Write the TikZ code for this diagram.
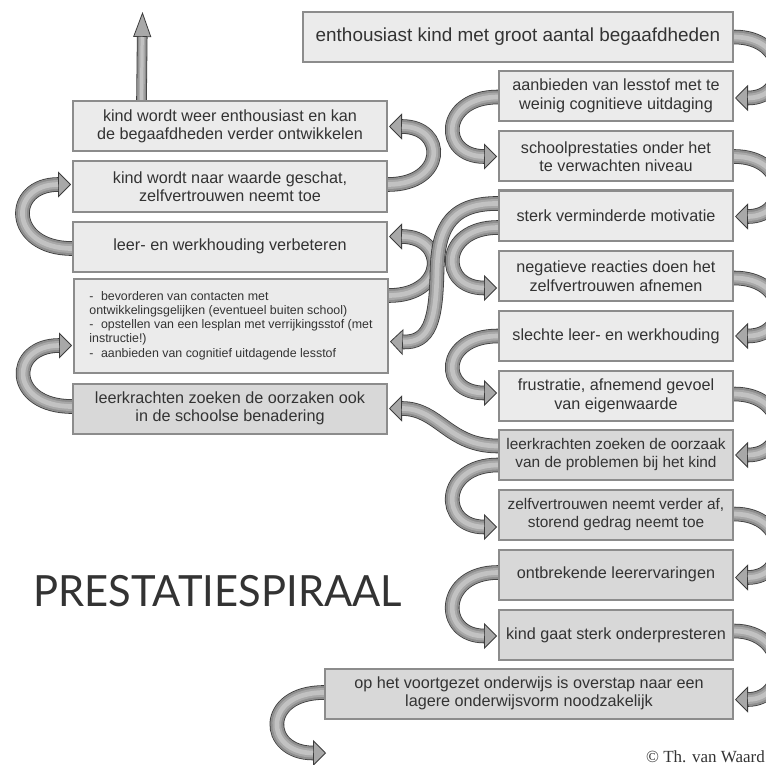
\documentclass[tikz,border=0pt]{standalone}
\usepackage{fontspec}
\setmainfont{Liberation Sans}
\newfontfamily\titlefont{Lato}
\newfontfamily\copyfont{Liberation Serif}
\usetikzlibrary{arrows.meta,calc}
\definecolor{boxlight}{HTML}{EBEBEB}
\definecolor{boxdark}{HTML}{D8D8D8}
\definecolor{boxline}{HTML}{8C8C8C}
\definecolor{txt}{HTML}{333333}
\definecolor{ribout}{HTML}{3C3C3C}
\definecolor{ribmid}{HTML}{8E8E8E}
\definecolor{ribmid2}{HTML}{A8A8A8}
\definecolor{ribhi}{HTML}{C2C2C2}
\pgfdeclarelayer{bg}
\pgfdeclarelayer{paper}
\pgfsetlayers{paper,bg,main}
\tikzset{
  box/.style={draw=boxline, line width=2pt, fill=boxlight, minimum width=234pt,
    minimum height=50pt, inner sep=2pt, align=center, text=txt,
    font=\fontsize{16.2}{18.5}\selectfont},
  dbox/.style={box, fill=boxdark},
  lbox/.style={box, minimum width=314pt},
  ldbox/.style={dbox, minimum width=314pt},
  ribedge/.style={draw=ribout},
  ribbody/.style={draw=ribmid},
  ribbody2/.style={draw=ribmid2},
  ribshine/.style={draw=ribhi}
}
% #1 body width, #2 tip width, #3 tip length, #4 path
\newcommand\ribbonw[4]{%
  \draw[ribedge, line width=#1pt+1.6pt,
    -{Triangle[width=#2pt,length=#3pt,line width=0.8pt,fill=ribmid2,color=ribout]}] #4;
  \draw[ribbody, line width=#1pt, shorten >=#3pt] #4;
  \draw[ribbody2, line width=0.68*#1pt, shorten >=#3pt] #4;
  \draw[ribshine, line width=0.36*#1pt, shorten >=#3pt] #4;
}
\newcommand\ribbon[1]{\ribbonw{13}{26}{13}{#1}}
\begin{document}
\begin{tikzpicture}[x=1pt,y=-1pt]
\useasboundingbox (0,0) rectangle (766,765);
\begin{pgfonlayer}{paper}
\fill[white] (0,0) rectangle (766,765);
\end{pgfonlayer}
% right column
\node[box, minimum width=430pt, font=\fontsize{18.9}{21}\selectfont] (b1) at (518,37) {enthousiast kind met groot aantal begaafdheden};
\node[box] (b2) at (616,96) {aanbieden van lesstof met te\\weinig cognitieve uitdaging};
\node[box] (b3) at (616,156.5) {schoolprestaties onder het\\te verwachten niveau};
\node[box] (b4) at (616,215.5) {sterk verminderde motivatie};
\node[box] (b5) at (616,276) {negatieve reacties doen het\\zelfvertrouwen afnemen};
\node[box] (b6) at (616,336) {slechte leer- en werkhouding};
\node[box] (b7) at (616,396) {frustratie, afnemend gevoel\\van eigenwaarde};
\node[dbox, font=\fontsize{15.4}{18}\selectfont] (b8) at (616,455) {leerkrachten zoeken de oorzaak\\van de problemen bij het kind};
\node[dbox, font=\fontsize{15.4}{18}\selectfont] (b9) at (616,515) {zelfvertrouwen neemt verder af,\\storend gedrag neemt toe};
\node[dbox] (b10) at (616,574.5) {ontbrekende leerervaringen};
\node[dbox] (b11) at (616,635) {kind gaat sterk onderpresteren};
\node[dbox, minimum width=408pt] (b12) at (529,693.5) {op het voortgezet onderwijs is overstap naar een\\lagere onderwijsvorm noodzakelijk};
% left column
\node[lbox] (a1) at (230,126.5) {kind wordt weer enthousiast en kan\\de begaafdheden verder ontwikkelen};
\node[lbox] (a2) at (230,186.5) {kind wordt naar waarde geschat,\\zelfvertrouwen neemt toe};
\node[lbox] (a3) at (230,246.5) {leer- en werkhouding verbeteren};
\node[lbox, minimum height=94pt, align=left, font=\fontsize{12.4}{14.2}\selectfont] (a4) at (231,325.5)
  {-\hspace{0.6em}bevorderen van contacten met\\
   ontwikkelingsgelijken (eventueel buiten school)\\
   -\hspace{0.6em}opstellen van een lesplan met verrijkingsstof (met\\
   instructie!)\\
   -\hspace{0.6em}aanbieden van cognitief uitdagende lesstof};
\node[ldbox] (a5) at (230,408.5) {leerkrachten zoeken de oorzaken ook\\in de schoolse benadering};
% title and credit
\node[font=\titlefont\fontsize{43}{43}\selectfont, text=txt, anchor=base west, inner sep=0pt, xscale=0.97] (title) at (33,606) {PRESTATIESPIRAAL};
\node[font=\copyfont\fontsize{17}{17}\selectfont, text=txt, anchor=base east, inner sep=0pt] (credit) at (765,762) {\textcopyright\ Th. van Waard};
\coordinate (upend) at (142.5,12);
\coordinate (lend) at (326,753);
\begin{pgfonlayer}{bg}
% right edge arrows
\ribbon{(b1.east) .. controls +(55,0) and +(55,0) .. ($(b2.east)+(1,2)$)}
\ribbon{(b3.east) .. controls +(55,0) and +(55,0) .. ($(b4.east)+(1,1)$)}
\ribbon{($(b5.east)+(0,2)$) .. controls +(55,0) and +(55,0) .. ($(b6.east)+(1,0)$)}
\ribbon{($(b7.east)+(0,-2)$) .. controls +(55,0) and +(55,0) .. ($(b8.east)+(1,0)$)}
\ribbon{($(b9.east)+(0,-1)$) .. controls +(55,0) and +(55,0) .. ($(b10.east)+(1,3)$)}
\ribbon{($(b11.east)+(0,-4)$) .. controls +(55,0) and +(55,0) .. ($(b12.east)+(1,6)$)}
% right column, left side
\ribbon{($(b2.west)+(0,1)$) .. controls +(-58,0) and +(-58,0) .. ($(b3.west)+(-1,0)$)}
\ribbon{($(b4.west)+(0,12)$) .. controls +(-58,0) and +(-58,0) .. ($(b5.west)+(-1,12)$)}
\ribbon{($(b6.west)+(0,0)$) .. controls +(-58,0) and +(-58,0) .. ($(b7.west)+(-1,-3)$)}
\ribbon{($(b8.west)+(0,10)$) .. controls +(-58,0) and +(-58,0) .. ($(b9.west)+(-1,12)$)}
\ribbon{($(b10.west)+(0,-2)$) .. controls +(-58,0) and +(-58,0) .. ($(b11.west)+(-1,1)$)}
\ribbon{($(b12.west)+(0,-1)$) .. controls +(-62,0) and +(-62,0) .. (lend)}
% left column
\ribbon{($(a3.west)+(0,2)$) .. controls +(-63,0) and +(-63,0) .. ($(a2.west)+(-1,-2)$)}
\ribbon{($(a5.west)+(0,-2)$) .. controls +(-63,0) and +(-63,0) .. ($(a4.west)+(-1,20)$)}
\ribbon{($(a2.east)+(0,-2)$) .. controls +(58,0) and +(58,0) .. ($(a1.east)+(1,0)$)}
\ribbon{($(a4.east)+(0,-30)$) .. controls +(58,0) and +(58,0) .. ($(a3.east)+(1,-10)$)}
% long S arrow and crossing arrow
\ribbon{($(b4.west)+(0,-12)$) .. controls (445,203) and (438,235) .. (437,272) .. controls (436,320) and (430,343) .. ($(a4.east)+(1,16)$)}
\ribbon{($(b8.west)+(0,-9)$) .. controls +(-50,0) and +(50,0) .. ($(a5.east)+(1,0)$)}
% up arrow
\ribbonw{9}{18}{25}{($(a1.north west)+(69.5,0)$) -- (upend)}
\end{pgfonlayer}
\end{tikzpicture}
\end{document}
